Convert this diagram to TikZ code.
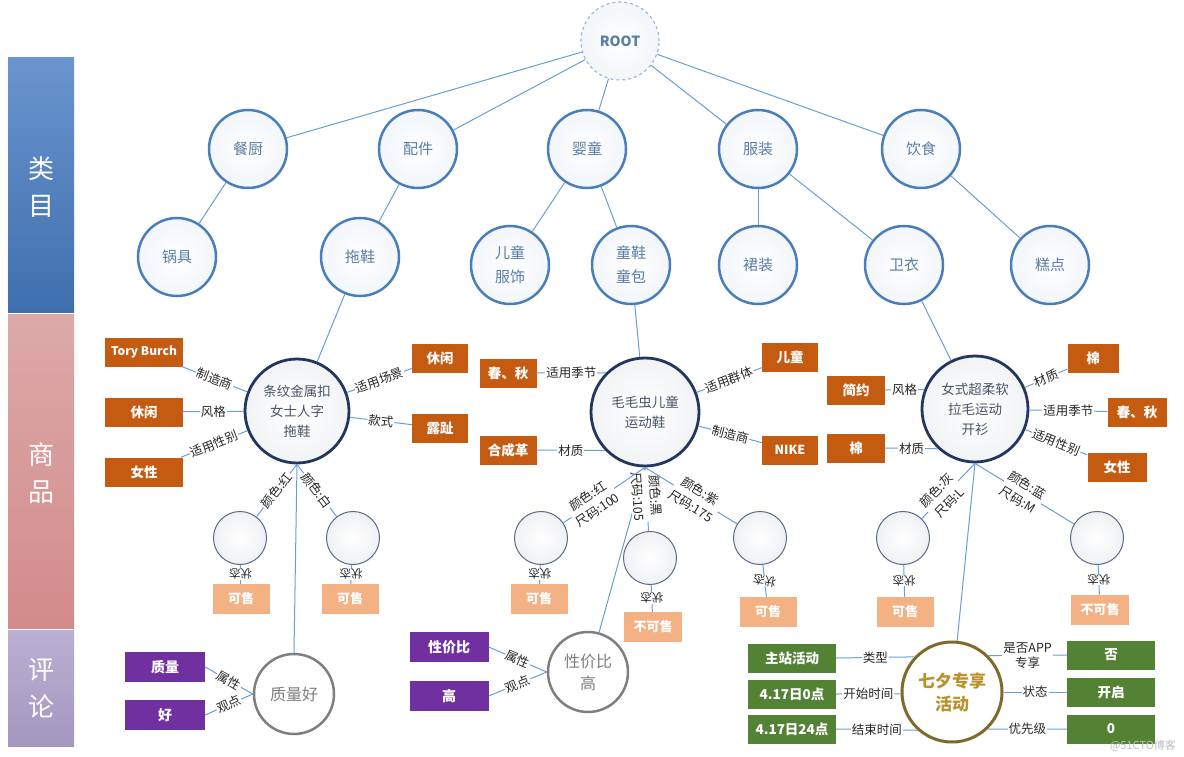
\documentclass[tikz,border=0pt]{standalone}
\usepackage{fontspec}
\setmainfont{Noto Sans CJK SC}
\usetikzlibrary{shapes.geometric}

\definecolor{catline}{HTML}{4A7EBB}
\definecolor{cattext}{HTML}{5A7DA4}
\definecolor{wire}{HTML}{6A9FD4}
\definecolor{navy}{HTML}{23375E}
\definecolor{goodtext}{HTML}{4A5568}
\definecolor{rust}{HTML}{C55A11}
\definecolor{peach}{HTML}{F4B183}
\definecolor{plum}{HTML}{7030A0}
\definecolor{moss}{HTML}{548235}
\definecolor{bronze}{HTML}{7F6A2A}
\definecolor{goldtext}{HTML}{B8922A}
\definecolor{revgrey}{HTML}{7F7F7F}
\definecolor{bluetop}{HTML}{6A95CE}
\definecolor{bluebot}{HTML}{3E6FAE}
\definecolor{pinktop}{HTML}{DCA9A9}
\definecolor{pinkbot}{HTML}{D38B8B}
\definecolor{lilactop}{HTML}{BAB0D2}
\definecolor{lilacbot}{HTML}{A497C0}

\tikzstyle{cat}=[circle, draw=catline, line width=2.5pt, shade, inner color=white, outer color=catline!7, minimum size=78pt, inner sep=0pt, text=cattext, font=\fontsize{15}{24}\selectfont, align=center]
\tikzstyle{rootcat}=[cat, dashed, draw=catline!55, line width=1.2pt, font=\fontsize{14}{16}\selectfont\bfseries]
\tikzstyle{goods}=[circle, draw=navy, line width=2.8pt, shade, inner color=white, outer color=navy!6, minimum size=104pt, inner sep=0pt, text=goodtext, font=\fontsize{13.5}{20}\selectfont, align=center]
\tikzstyle{sku}=[circle, draw=navy!75, line width=1pt, shade, inner color=white, outer color=navy!7, minimum size=53pt]
\tikzstyle{attr}=[rectangle, fill=rust, text=white, minimum height=29pt, inner sep=2pt, font=\fontsize{13.5}{16}\selectfont\bfseries]
\tikzstyle{stat}=[rectangle, fill=peach, text=white, minimum width=57pt, minimum height=30pt, inner sep=2pt, font=\fontsize{13}{16}\selectfont\bfseries]
\tikzstyle{opinion}=[rectangle, fill=plum, text=white, minimum width=80pt, minimum height=30pt, font=\fontsize{14}{16}\selectfont\bfseries]
\tikzstyle{event}=[rectangle, fill=moss, text=white, minimum width=88pt, minimum height=29pt, font=\fontsize{13.5}{16}\selectfont\bfseries]
\tikzstyle{review}=[circle, draw=revgrey, line width=2.5pt, fill=white, minimum size=80pt, inner sep=0pt, text=revgrey, font=\fontsize{16}{22}\selectfont, align=center]
\tikzstyle{festival}=[circle, draw=bronze, line width=3pt, fill=white, minimum size=100pt, inner sep=0pt, text=goldtext, font=\fontsize{17}{23}\selectfont\bfseries, align=center]
\tikzstyle{link}=[draw=wire, line width=1pt]
\tikzstyle{rel}=[fill=white, inner sep=1pt, text=black!85, align=center, font=\fontsize{12.5}{17.5}\selectfont]
\tikzstyle{state}=[rel, inner sep=0pt, font=\fontsize{11.5}{13}\selectfont]
\tikzstyle{band}=[text=white, align=center, font=\fontsize{26}{37}\selectfont]

\begin{document}
\begin{tikzpicture}[x=1pt, y=-1pt]
\useasboundingbox[fill=white] (0,0) rectangle (1184,757);
% Side bands
    \shade[top color=bluetop, bottom color=bluebot] (8,58) rectangle (74,312);
    \shade[top color=pinktop, bottom color=pinkbot] (8,314) rectangle (74,628);
    \shade[top color=lilactop, bottom color=lilacbot] (8,630) rectangle (74,746);
    \node[band] (b1) at (41,187) {类\\目};
    \node[band] (b2) at (41,473) {商\\品};
    \node[band] (b3) at (41,688) {评\\论};
% Categories
    \node[rootcat] (root) at (620,41) {ROOT};
    \node[cat] (c1) at (248,149) {餐厨};
    \node[cat] (c2) at (418,149) {配件};
    \node[cat] (c3) at (587,149) {婴童};
    \node[cat] (c4) at (758,149) {服装};
    \node[cat] (c5) at (921,149) {饮食};
    \node[cat] (s1) at (177,257) {锅具};
    \node[cat] (s2) at (360,257) {拖鞋};
    \node[cat] (s3) at (510,265) {儿童\\服饰};
    \node[cat] (s4) at (631,265) {童鞋\\童包};
    \node[cat] (s5) at (758,265) {裙装};
    \node[cat] (s6) at (904,265) {卫衣};
    \node[cat] (s7) at (1050,265) {糕点};
    \draw[link] (root) -- (c1);
    \draw[link] (root) -- (c2);
    \draw[link] (root) -- (c3);
    \draw[link] (root) -- (c4);
    \draw[link] (root) -- (c5);
    \draw[link] (c1) -- (s1);
    \draw[link] (c2) -- (s2);
    \draw[link] (c3) -- (s3);
    \draw[link] (c3) -- (s4);
    \draw[link] (c4) -- (s5);
    \draw[link] (c4) -- (s6);
    \draw[link] (c5) -- (s7);
% Goods
    \node[goods] (p1) at (297,411) {条纹金属扣\\女士人字\\拖鞋};
    \node[goods, minimum size=108pt] (p2) at (645,412) {毛毛虫儿童\\运动鞋};
    \node[goods, minimum size=106pt] (p3) at (975,409) {女式超柔软\\拉毛运动\\开衫};
    \draw[link] (s2) -- (p1);
    \draw[link] (s4) -- (p2);
    \draw[link] (s6) -- (p3);
% Attributes
    \node[attr, minimum width=78pt, font=\fontsize{12}{14}\selectfont\bfseries] (a11) at (144,352) {Tory Burch};
    \node[attr, minimum width=78pt] (a12) at (144,412) {休闲};
    \node[attr, minimum width=78pt] (a13) at (144,472) {女性};
    \node[attr, minimum width=56pt] (a14) at (440,358) {休闲};
    \node[attr, minimum width=56pt] (a15) at (440,428) {露趾};
    \node[attr, minimum width=57pt] (a21) at (508,373) {春、秋};
    \node[attr, minimum width=57pt] (a22) at (508,450) {合成革};
    \node[attr, minimum width=56pt] (a23) at (790,357) {儿童};
    \node[attr, minimum width=56pt, font=\fontsize{12.5}{14}\selectfont\bfseries] (a24) at (790,450) {NIKE};
    \node[attr, minimum width=58pt] (a31) at (856,390) {简约};
    \node[attr, minimum width=58pt] (a32) at (856,448) {棉};
    \node[attr, minimum width=51pt] (a33) at (1093,358) {棉};
    \node[attr, minimum width=59pt] (a34) at (1137,412) {春、秋};
    \node[attr, minimum width=59pt] (a35) at (1117,467) {女性};
    \draw[link] (a11) -- (p1) node[rel, midway, sloped] {制造商};
    \draw[link] (a12) -- (p1) node[rel, midway] {风格};
    \draw[link] (a13) -- (p1) node[rel, midway, sloped] {适用性别};
    \draw[link] (p1) -- (a14) node[rel, midway, sloped] {适用场景};
    \draw[link] (p1) -- (a15) node[rel, midway, sloped] {款式};
    \draw[link] (a21.east) -- (p2.135) node[rel, midway] {适用季节};
    \draw[link] (a22.east) -- (p2.224) node[rel, midway] {材质};
    \draw[link] (p2) -- (a23) node[rel, midway, sloped] {适用群体};
    \draw[link] (p2) -- (a24) node[rel, midway, sloped] {制造商};
    \draw[link] (a31.east) -- (p3.159) node[rel, midway] {风格};
    \draw[link] (a32.east) -- (p3.227) node[rel, midway] {材质};
    \draw[link] (p3) -- (a33) node[rel, midway, sloped] {材质};
    \draw[link] (p3) -- (a34) node[rel, midway] {适用季节};
    \draw[link] (p3) -- (a35) node[rel, midway, sloped] {适用性别};
% Reviews
    \node[review] (r1) at (294,694) {质量好};
    \node[review] (r2) at (588,672) {性价比\\高};
    \node[opinion] (o11) at (165,667) {质量};
    \node[opinion] (o12) at (165,715) {好};
    \node[opinion, minimum width=79pt] (o21) at (449,647) {性价比};
    \node[opinion, minimum width=79pt] (o22) at (449,696) {高};
    \draw[link] (p1.south) -- (r1.north);
    \draw[link] (p2.south) -- (r2);
    \draw[link] (o11.east) -- (r1.west) node[rel, midway, sloped] {属性};
    \draw[link] (o12.east) -- (r1.west) node[rel, midway, sloped] {观点};
    \draw[link] (o21.east) -- (r2.west) node[rel, midway, sloped] {属性};
    \draw[link] (o22.east) -- (r2.west) node[rel, midway, sloped] {观点};
% Campaign
    \node[festival] (q) at (952,692) {七夕专享\\活动};
    \node[event] (e1) at (792,658) {主站活动};
    \node[event] (e2) at (792,694) {4.17日0点};
    \node[event] (e3) at (792,729) {4.17日24点};
    \node[event] (e4) at (1111,655) {否};
    \node[event] (e5) at (1111,692) {开启};
    \node[event] (e6) at (1111,729) {0};
    \draw[link] (p3.south) -- (q);
    \draw[link] (e1.east) -- (q.137) node[rel, midway] {类型};
    \draw[link] (e2.east) -- (q.182) node[rel, midway] {开始时间};
    \draw[link] (e3.east) -- (q.228) node[rel, midway] {结束时间};
    \draw[link] (q.45) -- (e4.west) node[rel, midway, font=\fontsize{12.5}{15}\selectfont] {是否APP\\专享};
    \draw[link] (q.east) -- (e5.west) node[rel, midway] {状态};
    \draw[link] (q.-46) -- (e6.west) node[rel, midway] {优先级};
% SKUs and their status
    \node[sku] (k11) at (240,538) {};
    \node[sku] (k12) at (353,538) {};
    \node[sku] (k21) at (541,538) {};
    \node[sku] (k22) at (650,558) {};
    \node[sku] (k23) at (760,538) {};
    \node[sku] (k31) at (903,538) {};
    \node[sku] (k32) at (1097,538) {};
    \node[stat] (t11) at (241,599) {可售};
    \node[stat] (t12) at (350,599) {可售};
    \node[stat] (t21) at (539,599) {可售};
    \node[stat, minimum width=58pt] (t22) at (653,627) {不可售};
    \node[stat] (t23) at (768,612) {可售};
    \node[stat] (t31) at (905,612) {可售};
    \node[stat, minimum width=58pt] (t32) at (1100,610) {不可售};
    \draw[link] (p2.south) -- (k22) node[rel, pos=0.45, sloped] {颜色:黑\\尺码:105};
    \draw[link] (p1.south) -- (k11) node[rel, midway, sloped] {颜色:红};
    \draw[link] (p1.south) -- (k12) node[rel, midway, sloped] {颜色:白};
    \draw[link] (p2.south) -- (k21) node[rel, pos=0.64, sloped] {颜色:红\\尺码:100};
    \draw[link] (p2.south) -- (k23) node[rel, pos=0.55, sloped] {颜色:紫\\尺码:175};
    \draw[link] (p3.south) -- (k31) node[rel, pos=0.6, sloped] {颜色:灰\\尺码:L};
    \draw[link] (p3.south) -- (k32) node[rel, pos=0.48, sloped] {颜色:蓝\\尺码:M};
    \draw[link] (k11) -- (t11) node[state, midway, rotate=180] {状态};
    \draw[link] (k12) -- (t12) node[state, midway, rotate=180] {状态};
    \draw[link] (k21) -- (t21) node[state, midway, rotate=180] {状态};
    \draw[link] (k22) -- (t22) node[state, midway, rotate=180] {状态};
    \draw[link] (k23) -- (t23) node[state, midway, rotate=170] {状态};
    \draw[link] (k31) -- (t31) node[state, midway, rotate=180] {状态};
    \draw[link] (k32) -- (t32) node[state, midway, rotate=180] {状态};
% Watermark
    \node[text=black!25, font=\fontsize{11}{13}\selectfont] (wm) at (1143,746) {@51CTO博客};
\end{tikzpicture}
\end{document}
